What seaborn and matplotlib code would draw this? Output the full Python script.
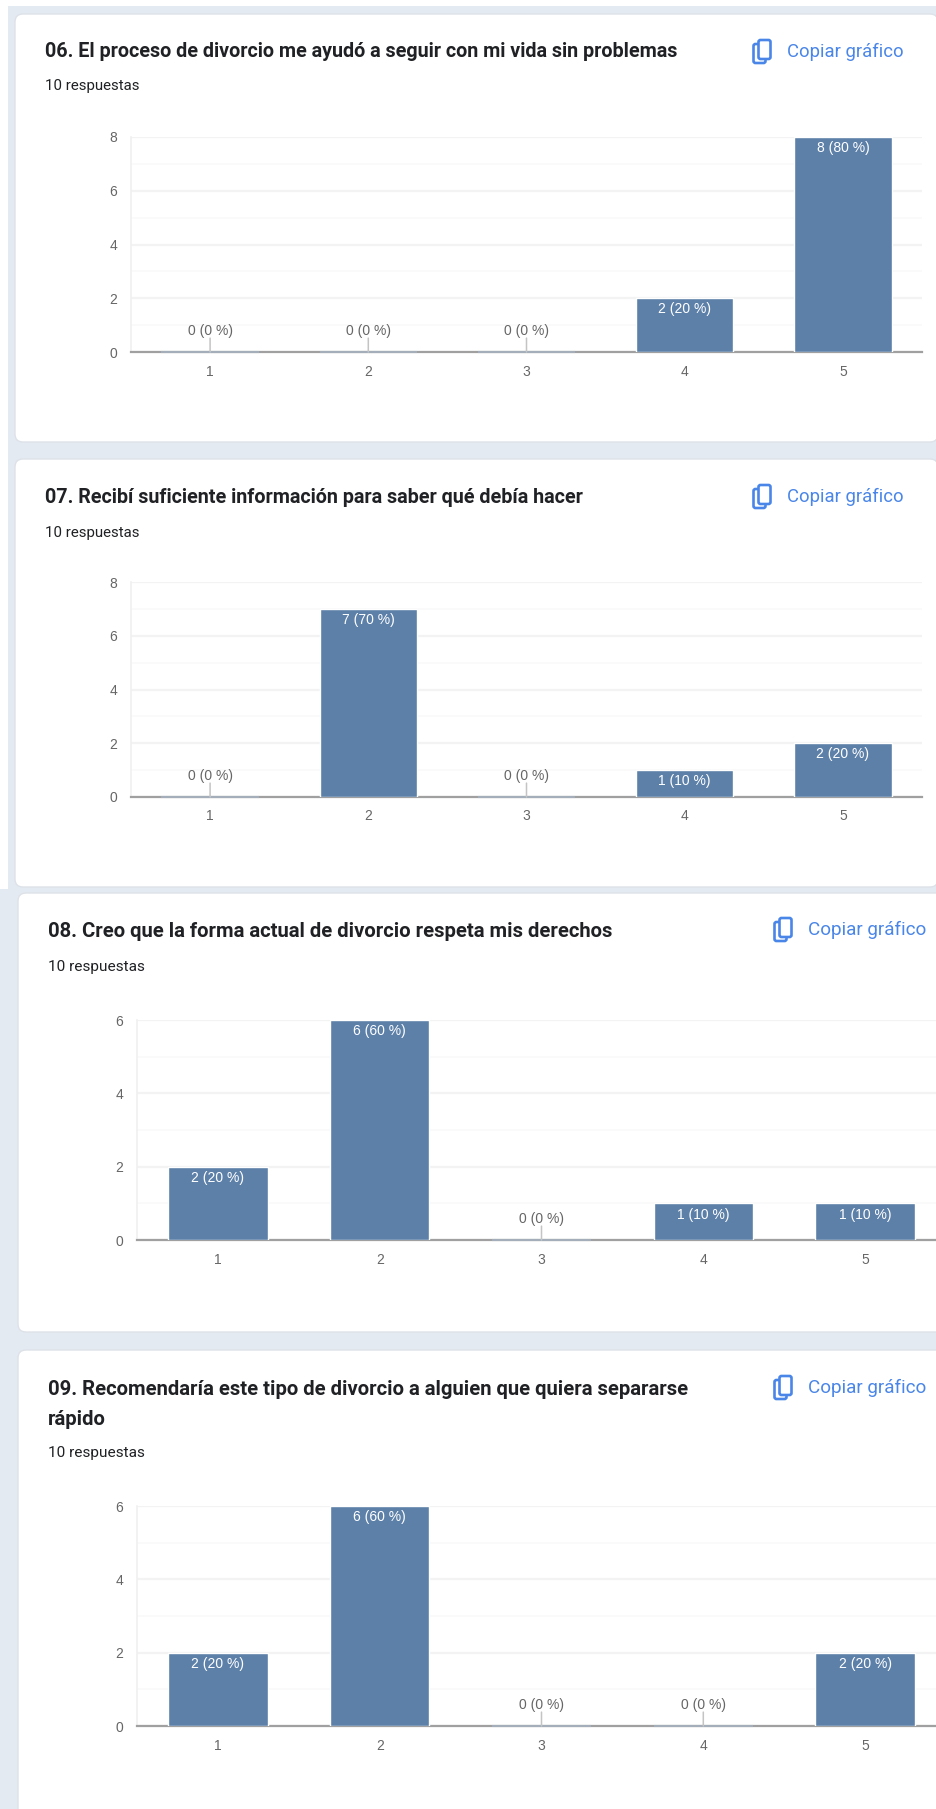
import matplotlib
matplotlib.use("Agg")
import matplotlib.pyplot as plt
import matplotlib.patches as mpatches
import pandas as pd
import seaborn as sns

W, H = 936, 1809

answers = [1, 2, 3, 4, 5]
counts_06 = [0, 0, 0, 2, 8]
counts_07 = [0, 7, 0, 1, 2]
counts_08 = [2, 6, 0, 1, 1]
counts_09 = [2, 6, 0, 0, 2]

title_06 = "06. El proceso de divorcio me ayudó a seguir con mi vida sin problemas"
title_07 = "07. Recibí suficiente información para saber qué debía hacer"
title_08 = "08. Creo que la forma actual de divorcio respeta mis derechos"
title_09 = "09. Recomendaría este tipo de divorcio a alguien que quiera separarse\nrápido"
subtitle = "10 respuestas"
copy_text = "Copiar gráfico"

BG = "#e4eaf2"
BAR = "#5d80a9"
TICK = "#666666"
BLUE = "#4a86e8"

sns.set_theme(style="white")
plt.rcParams["font.family"] = ["Liberation Sans", "DejaVu Sans"]

fig = plt.figure(figsize=(W / 100, H / 100), dpi=100, facecolor="white")

# page layer in pixel coordinates
page = fig.add_axes([0, 0, 1, 1])
page.set_xlim(0, W)
page.set_ylim(H, 0)
page.axis("off")

page.add_patch(mpatches.Rectangle((8, 6), W - 8, 884, fc=BG, ec="none"))
page.add_patch(mpatches.Rectangle((0, 889), W, H - 889, fc=BG, ec="none"))


def card(x0, y0, x1, y1):
    page.add_patch(mpatches.FancyBboxPatch((x0 + 8, y0 + 8), x1 - x0 - 16, y1 - y0 - 16,
                                           boxstyle="round,pad=8,rounding_size=8",
                                           fc="white", ec="#dde2e9", lw=1))


def copy_button(x, y, scale):
    # icon is two offset rounded squares
    page.add_patch(mpatches.FancyBboxPatch((x + 1.5, y + 5), 12, 19, boxstyle="round,pad=0,rounding_size=2",
                                           fc="white", ec=BLUE, lw=1.9))
    page.add_patch(mpatches.FancyBboxPatch((x + 6.5, y + 1), 12, 19, boxstyle="round,pad=0,rounding_size=2",
                                           fc="white", ec=BLUE, lw=1.9))
    page.text(x + 35, y + 13, copy_text, color=BLUE, fontsize=13.3 * scale, va="center", ha="left",
              family=["Roboto", "DejaVu Sans"])


def chart(counts, title, card_box, title_xy, sub_y, icon_xy, plot_box, ymax, scale=1.0):
    card(*card_box)
    page.text(title_xy[0], title_xy[1], title, fontsize=14.2 * scale, fontweight="bold", color="#202124",
              va="top", ha="left", linespacing=1.72, family=["Roboto", "DejaVu Sans"])
    page.text(title_xy[0], sub_y, subtitle, fontsize=10.8 * scale, color="#202124", va="center", ha="left",
              family=["Roboto", "DejaVu Sans"])
    copy_button(icon_xy[0], icon_xy[1], scale)

    left, top, right, bottom = plot_box
    ax = fig.add_axes([left / W, 1 - bottom / H, (right - left) / W, (bottom - top) / H])
    df = pd.DataFrame({"answer": answers, "count": counts})
    sns.barplot(data=df, x="answer", y="count", color=BAR, saturation=1, width=0.615, ax=ax, zorder=3)
    ax.set_ylim(0, ymax)
    ax.set_xlabel("")
    ax.set_ylabel("")
    ax.patch.set_alpha(0)

    ax.set_yticks(range(0, ymax + 1, 2))
    ax.set_yticks(range(1, ymax, 2), minor=True)
    ax.grid(axis="y", which="major", color="#f3f3f3", lw=1.6, zorder=0)
    ax.grid(axis="y", which="minor", color="#f9f9f9", lw=1.2, zorder=0)
    ax.tick_params(axis="both", which="both", length=0, colors=TICK, labelsize=10)
    ax.tick_params(axis="x", pad=9)
    ax.tick_params(axis="y", pad=10)

    for name in ["top", "right"]:
        ax.spines[name].set_visible(False)
    ax.spines["left"].set_color("#f0f0f0")
    ax.spines["left"].set_linewidth(1.2)
    ax.spines["bottom"].set_color("#a0a0a0")
    ax.spines["bottom"].set_linewidth(1.6)
    ax.spines["bottom"].set_zorder(2.5)

    for bar, value in zip(ax.patches, counts):
        label = f"{value} ({value * 10} %)"
        cx = bar.get_x() + bar.get_width() / 2
        if value == 0:
            bar.set_edgecolor("#a3aeba")
            bar.set_linewidth(1.5)
            bar.set_clip_on(False)
            ax.annotate("", xy=(cx, 0), xytext=(0, 10), xycoords="data", textcoords="offset points",
                        arrowprops=dict(arrowstyle="-", color="#c4c4c4", lw=1.1, shrinkA=0, shrinkB=0))
            ax.annotate(label, xy=(cx, 0), xytext=(0, 10), textcoords="offset points",
                        ha="center", va="bottom", color=TICK, fontsize=10, zorder=6)
        else:
            ax.annotate(label, xy=(cx, value), xytext=(0, -3), textcoords="offset points",
                        ha="center", va="top", color="white", fontsize=10, zorder=6)
    return ax


chart(counts_06, title_06, (15, 14, 938, 442), (45, 42), 86, (752, 39), (131, 137, 922, 352), 8)
chart(counts_07, title_07, (15, 459, 938, 887), (45, 488), 533, (752, 484), (131, 582, 922, 797), 8)
chart(counts_08, title_08, (18, 893, 960, 1332), (48, 922), 967, (773, 917), (137, 1020, 946, 1240), 6, scale=1.025)
chart(counts_09, title_09, (18, 1350, 960, 1840), (48, 1380), 1453, (773, 1375), (137, 1506, 946, 1726), 6, scale=1.025)

fig.savefig("out.png", dpi=100)
